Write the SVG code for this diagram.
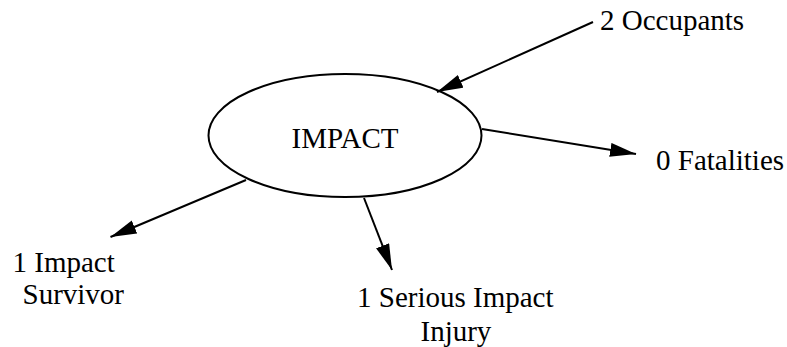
<svg xmlns="http://www.w3.org/2000/svg" width="787" height="347" viewBox="0 0 787 347">
<style>
text{font-family:"Liberation Serif","Times New Roman",serif;font-size:29px;fill:#000}
.n{fill:none;stroke:#000;stroke-width:2}
.e{stroke:#000;stroke-width:2;fill:none}
</style>
<defs>
<marker id="ah" markerUnits="userSpaceOnUse" markerWidth="28" markerHeight="16" refX="26" refY="7" orient="auto">
<path d="M0,0 L26,7 L0,14 z" fill="#000"/>
</marker>
</defs>
<rect width="787" height="347" fill="#fff"/>
<g id="impact">
<ellipse class="n" cx="345" cy="135.5" rx="136.5" ry="61.5"/>
<text x="345" y="148" text-anchor="middle">IMPACT</text>
</g>
<g id="occupants"><text x="600" y="30">2 Occupants</text></g>
<g id="fatalities"><text x="656" y="170">0 Fatalities</text></g>
<g id="survivor"><text x="12.5" y="272">1 Impact</text><text x="22.5" y="304">Survivor</text></g>
<g id="serious"><text x="357" y="307">1 Serious Impact</text><text x="420.5" y="341">Injury</text></g>
<g id="connectors">
<line class="e" x1="593" y1="22" x2="437" y2="92" marker-end="url(#ah)"/>
<line class="e" x1="482" y1="129" x2="636" y2="154" marker-end="url(#ah)"/>
<line class="e" x1="246" y1="180" x2="110.5" y2="237" marker-end="url(#ah)"/>
<line class="e" x1="364" y1="198" x2="392" y2="270" marker-end="url(#ah)"/>
</g>
</svg>
